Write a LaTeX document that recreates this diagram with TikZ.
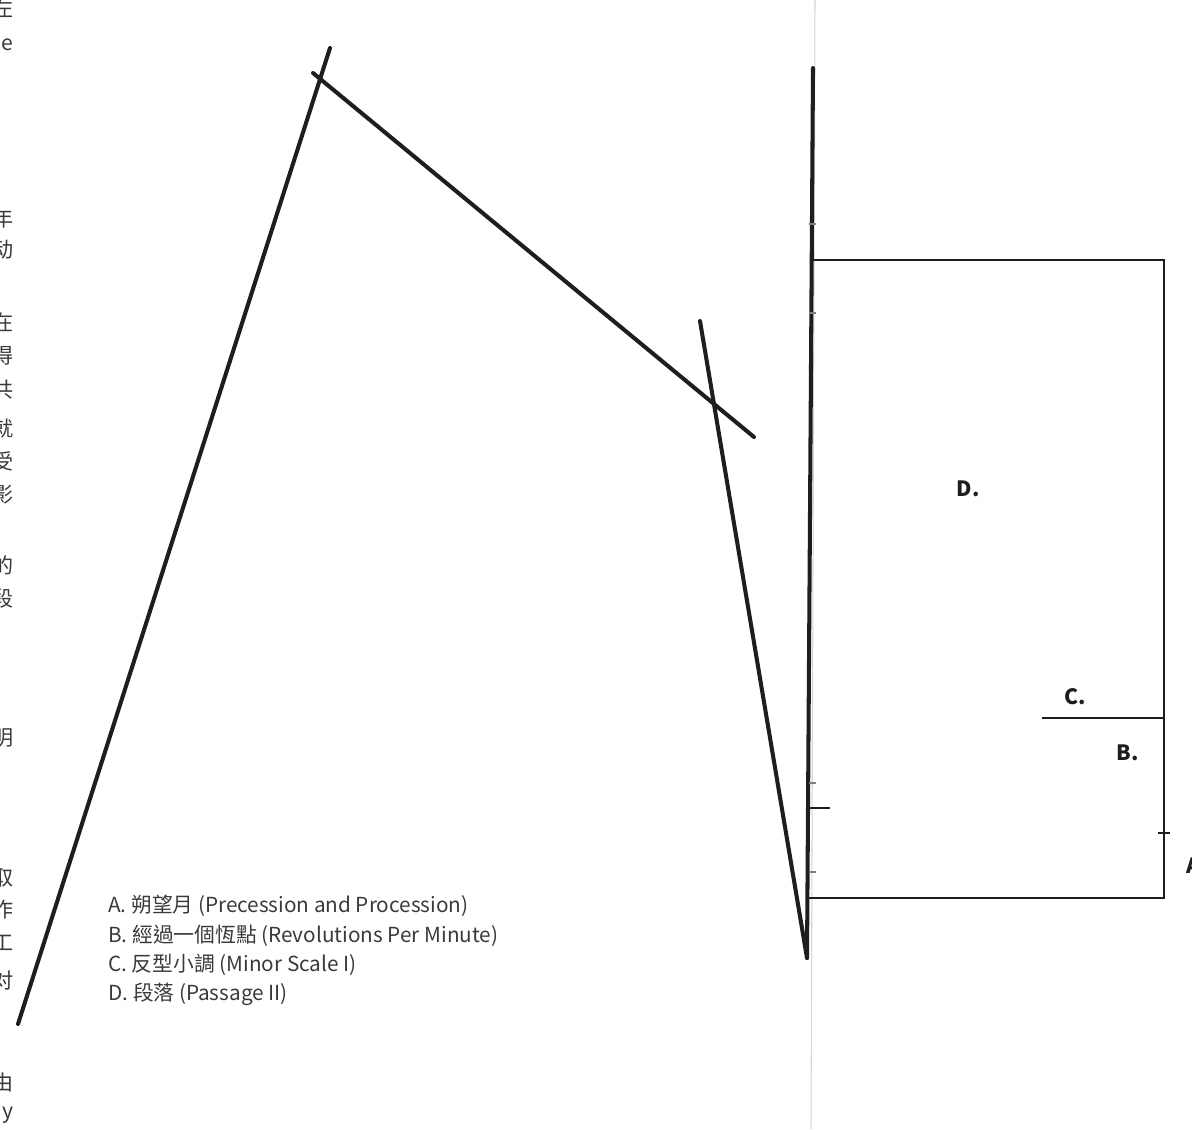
\documentclass[tikz,border=0pt]{standalone}
\usepackage{fontspec}
\setmainfont{Noto Sans CJK TC}
\newfontfamily\cjksc{Noto Sans CJK SC}
\usepackage{tikz}

\begin{document}
\begin{tikzpicture}[x=0.02cm,y=-0.02cm]

% Colori
\definecolor{colInk}{HTML}{1E1E1E}
\definecolor{colText}{HTML}{3A3A3A}
\definecolor{colFold}{HTML}{D4D4D4}

\tikzset{
  asta/.style={colInk, line width=2.3pt, line cap=round},
  bordo/.style={colInk, line width=1.4pt},
  etich/.style={font=\bfseries\fontsize{12}{14}\selectfont, text=colInk},
  legenda/.style={font=\fontsize{11.8}{14}\selectfont, text=colText, anchor=west, inner sep=0pt},
  frammento/.style={font=\cjksc\fontsize{12}{14}\selectfont, text=colText, anchor=east, inner sep=0pt}
}

\useasboundingbox (0,0) rectangle (1192,1129);

% Piega della pagina
\coordinate (piegaA) at (815,0);
\coordinate (piegaB) at (811,1129);
\draw[colFold, line width=0.6pt] (piegaA) -- (piegaB);

% Aste inclinate
\coordinate (p1) at (18,1024);
\coordinate (p2) at (330,48);
\coordinate (p3) at (313,73);
\coordinate (p4) at (754,437);
\coordinate (p5) at (700,321);
\coordinate (p6) at (807,958);
\draw[asta] (p1) -- (p2);
\draw[asta] (p3) -- (p4);
\draw[asta] (p5) -- (p6);

% Asta verticale
\coordinate (v1) at (813,68);
\draw[asta] (v1) -- (p6);

% Rettangolo
\coordinate (r1) at (812,260);
\coordinate (r2) at (1164,260);
\coordinate (r3) at (1164,898);
\coordinate (r4) at (808,898);
\draw[bordo] (r1) -- (r2) -- (r3) -- (r4);

% Linea C e tacche
\coordinate (c1) at (1042,718);
\coordinate (c2) at (1164,718);
\draw[bordo] (c1) -- (c2);
\coordinate (t1) at (808,808);
\coordinate (t2) at (830,808);
\draw[bordo] (t1) -- (t2);
\coordinate (t3) at (1158,833);
\coordinate (t4) at (1170,833);
\draw[colInk, line width=1pt] (t3) -- (t4);
\foreach \yy in {224,313,783,872}
  \draw[gray, line width=0.6pt] (809,\yy) -- (816,\yy);

% Etichette
\node[etich] (labD) at (968,489) {D.};
\node[etich] (labC) at (1075,697) {C.};
\node[etich] (labB) at (1128,753) {B.};
\node[etich, anchor=west] (labA) at (1180,866) {A.};

% Legenda
\node[legenda] (legA) at (108,906) {A. 朔望月 (Precession and Procession)};
\node[legenda] (legB) at (108,936) {B. 經過一個恆點 (Revolutions Per Minute)};
\node[legenda] (legC) at (108,965) {C. 反型小調 (Minor Scale I)};
\node[legenda] (legD) at (108,994) {D. 段落 (Passage II)};

% Frammenti al margine sinistro
\foreach \yy/\tt [count=\i] in {8/左,45/e,218/年,250/动,322/在,356/得,390/共,428/就,461/受,495/影,565/的,598/段,700/：,738/明,878/取,910/作,943/工,980/对,1082/由,1115/y}
  \node[frammento] (fr\i) at (14,\yy) {\tt};

\end{tikzpicture}
\end{document}
